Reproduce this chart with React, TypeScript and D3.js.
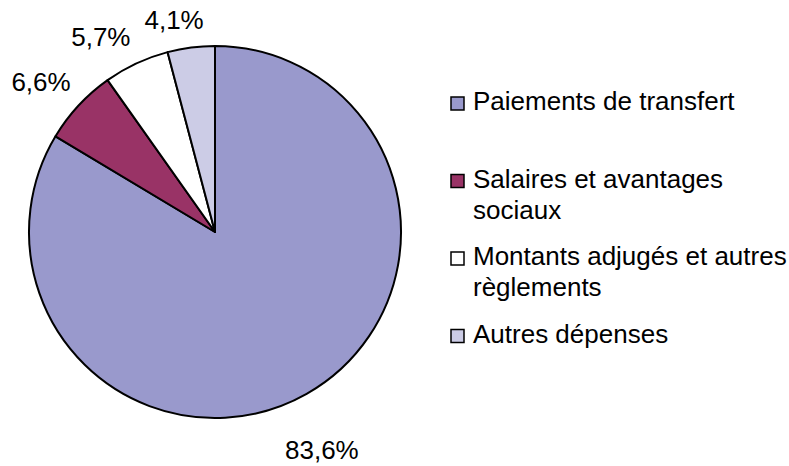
import React from "react";
import * as d3 from "d3";

const categories = [
  "Paiements de transfert",
  "Salaires et avantages sociaux",
  "Montants adjugés et autres règlements",
  "Autres dépenses",
];
const values = [83.6, 6.6, 5.7, 4.1];
const valueLabels = ["83,6%", "6,6%", "5,7%", "4,1%"];
const legendLines = [
  ["Paiements de transfert"],
  ["Salaires et avantages", "sociaux"],
  ["Montants adjugés et autres", "règlements"],
  ["Autres dépenses"],
];
const colors = ["#9999cc", "#993366", "#ffffff", "#cccce6"];

const W = 789;
const H = 466;
const cx = 215;
const cy = 232;
const R = 186;
const labelR = 225;
const labelNudge: [number, number][] = [
  [-4, 31],
  [-9, 12],
  [-19, 18],
  [-12, 20],
];
const font = "'Liberation Sans', Arial, sans-serif";
const fontSize = 26;

export default function App() {
  const pie = d3
    .pie<number>()
    .sort(null)
    .value((d) => d)
    .startAngle(0)
    .endAngle(2 * Math.PI);
  const arcs = pie(values);
  const arc = d3.arc<d3.PieArcDatum<number>>().innerRadius(0).outerRadius(R);
  const labelArc = d3
    .arc<d3.PieArcDatum<number>>()
    .innerRadius(labelR)
    .outerRadius(labelR);

  const legendX = 451;
  const legendY0 = 110;
  const entryStep = 77.5;
  const lineH = 31;

  return (
    <svg
      width={W}
      height={H}
      style={{ position: "absolute", left: 0, top: 0, display: "block" }}
      fontFamily={font}
    >
      <rect width={W} height={H} fill="#ffffff" />
      <g transform={`translate(${cx},${cy})`}>
        {arcs.map((a, i) => (
          <path
            key={categories[i]}
            d={arc(a) || ""}
            fill={colors[i]}
            stroke="#000"
            strokeWidth={2}
            strokeLinejoin="round"
          />
        ))}
        {arcs.map((a, i) => {
          const [x, y] = labelArc.centroid(a);
          return (
            <text
              key={"l" + i}
              x={x + labelNudge[i][0]}
              y={y + labelNudge[i][1]}
              textAnchor="middle"
              fontSize={fontSize}
              fill="#000"
            >
              {valueLabels[i]}
            </text>
          );
        })}
      </g>
      <g>
        {categories.map((c, i) => {
          const by = legendY0 + i * entryStep;
          return (
            <g key={"lg" + c}>
              <rect
                x={legendX}
                y={by - 13}
                width={13}
                height={13}
                fill={colors[i]}
                stroke="#000"
                strokeWidth={1.5}
              />
              <text x={legendX + 22} y={by} fontSize={fontSize} fill="#000">
                {legendLines[i].map((ln, j) => (
                  <tspan key={j} x={legendX + 22} y={by + j * lineH}>
                    {ln}
                  </tspan>
                ))}
              </text>
            </g>
          );
        })}
      </g>
    </svg>
  );
}
